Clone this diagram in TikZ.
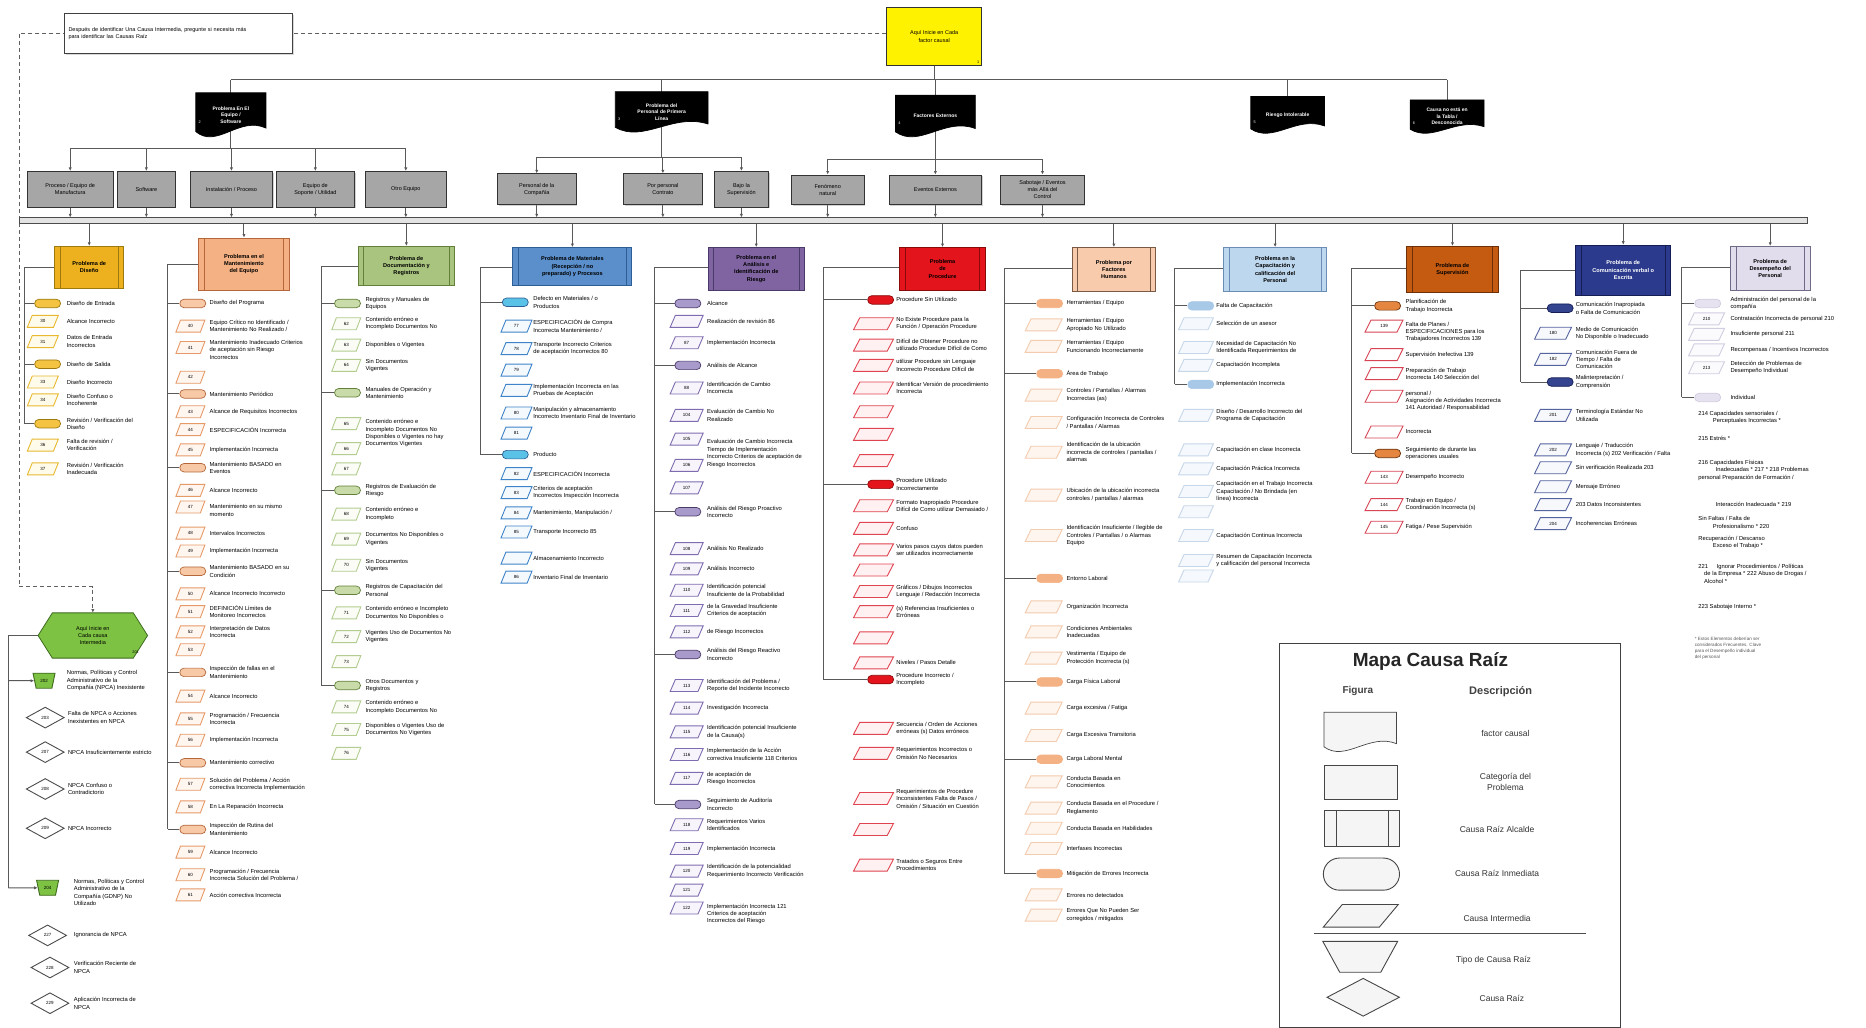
\documentclass[tikz,border=0pt]{standalone}
\usepackage{fontspec}
\setmainfont{Liberation Sans}
\usetikzlibrary{shapes.geometric,shapes.misc,arrows.meta,shadows}
\pgfdeclarelayer{bg}
\pgfsetlayers{bg,main}
\newcounter{itm}
\definecolor{lnc}{HTML}{595959}
\definecolor{boxgray}{HTML}{A6A6A6}
\definecolor{gdH}{HTML}{EDB120}\definecolor{gdD}{HTML}{9C7A0E}\definecolor{gdS}{HTML}{F5C342}\definecolor{gdP}{HTML}{E8B830}\definecolor{gdF}{HTML}{FFFBEA}
\definecolor{slH}{HTML}{F4B183}\definecolor{slD}{HTML}{B5673A}\definecolor{slS}{HTML}{F8C9A6}\definecolor{slP}{HTML}{E69A68}\definecolor{slF}{HTML}{FFF6F0}
\definecolor{gnH}{HTML}{A9C47F}\definecolor{gnD}{HTML}{62803A}\definecolor{gnS}{HTML}{C9DBA8}\definecolor{gnP}{HTML}{B3CC8F}\definecolor{gnF}{HTML}{FAFCF5}
\definecolor{blH}{HTML}{5A8FCB}\definecolor{blD}{HTML}{2E5E96}\definecolor{blS}{HTML}{5BC2E7}\definecolor{blP}{HTML}{3F84C8}\definecolor{blF}{HTML}{F4F9FE}
\definecolor{puH}{HTML}{8064A2}\definecolor{puD}{HTML}{4A3A6A}\definecolor{puS}{HTML}{A89BCB}\definecolor{puP}{HTML}{7F6CB0}\definecolor{puF}{HTML}{F7F5FB}
\definecolor{rdH}{HTML}{E3141B}\definecolor{rdD}{HTML}{8A0A0A}\definecolor{rdS}{HTML}{E3141B}\definecolor{rdP}{HTML}{E04450}\definecolor{rdF}{HTML}{FFF0F1}
\definecolor{pcH}{HTML}{F8CBAD}\definecolor{pcD}{HTML}{7A5A45}\definecolor{pcS}{HTML}{F4B183}\definecolor{pcP}{HTML}{F3CBAE}\definecolor{pcF}{HTML}{FEF5EE}
\definecolor{lbH}{HTML}{BDD7EE}\definecolor{lbD}{HTML}{6A8DB5}\definecolor{lbS}{HTML}{A8C8E8}\definecolor{lbP}{HTML}{C6D7EA}\definecolor{lbF}{HTML}{F5F8FC}
\definecolor{orH}{HTML}{C55A11}\definecolor{orD}{HTML}{6E3008}\definecolor{orS}{HTML}{E4863F}\definecolor{orP}{HTML}{D74555}\definecolor{orF}{HTML}{FFFFFF}
\definecolor{nvH}{HTML}{2B3A8C}\definecolor{nvD}{HTML}{141E55}\definecolor{nvS}{HTML}{34448F}\definecolor{nvP}{HTML}{55649F}\definecolor{nvF}{HTML}{F7F8FC}
\definecolor{lvH}{HTML}{E2DDEC}\definecolor{lvD}{HTML}{6F6A85}\definecolor{lvS}{HTML}{E6E2EF}\definecolor{lvP}{HTML}{D2CCE0}\definecolor{lvF}{HTML}{FBFAFD}
\definecolor{hexg}{HTML}{7DC242}\definecolor{hexd}{HTML}{3E6B1F}
\tikzset{
 conn/.style={draw=lnc, line width=1pt},
 arr/.style={conn, -{Latex[length=3.5pt,width=3.2pt]}},
 dashl/.style={draw=gray!75!black, line width=1pt, dash pattern=on 4pt off 3pt},
 txt/.style={anchor=west, inner sep=0pt, align=left, font=\fontsize{5.8}{7.4}\selectfont, text=black},
 stad/.style={rounded rectangle, minimum width=26pt, minimum height=8.5pt, inner sep=0pt, line width=0.7pt},
 para/.style={trapezium, trapezium left angle=60, trapezium right angle=120, trapezium stretches=true, minimum height=12pt, inner sep=0pt, line width=0.9pt, font=\fontsize{4.5}{5}\selectfont},
 gboxst/.style={draw=gray!40!black, fill=boxgray, line width=0.8pt, inner sep=1pt, align=center, font=\fontsize{5.5}{7}\selectfont, drop shadow={opacity=0.35,shadow xshift=1.2pt,shadow yshift=-1.2pt}},
 hdrbox/.style={line width=0.9pt, inner sep=1pt, align=center, font=\fontsize{5.6}{7.2}\selectfont\bfseries},
 numw/.style={font=\fontsize{3.8}{4}\selectfont, inner sep=0pt},
 doctxt/.style={text=white, font=\fontsize{5}{6.5}\selectfont\bfseries},
 legdoc/.style={},
 trapz/.style={trapezium, trapezium left angle=115, trapezium right angle=115, trapezium stretches=true, inner sep=0pt, line width=0.9pt, font=\fontsize{4.5}{5}\selectfont},
 dia/.style={diamond, draw=gray!60!black, fill=white, minimum width=38pt, minimum height=21pt, inner sep=0pt, line width=0.9pt, font=\fontsize{4.5}{5}\selectfont},
 legtxt/.style={font=\fontsize{8.5}{11}\selectfont, text=black!80, align=center},
 legshape/.style={draw=gray!55!black, fill=gray!8, line width=0.9pt, inner sep=0pt},
}
\newcommand\setcol[9]{\def\cLx{#1}\def\cSx{#2}\def\cPx{#3}\def\cTx{#4}\def\cPw{#5}\def\cSf{#6}\def\cPd{#7}\def\cPf{#8}\def\cSd{#9}}
\newcommand\CS[2]{\stepcounter{itm}%
 \coordinate (j\theitm) at (\cLx,#1);%
 \node[stad,fill=\cSf,draw=\cSd] (s\theitm) at (\cSx,#1) {};%
 \begin{pgfonlayer}{bg}\draw[conn] (j\theitm) -- (s\theitm.west);\end{pgfonlayer}%
 \node[txt] (st\theitm) at (\cTx,#1) {#2};}
\newcommand\CP[4][]{\stepcounter{itm}%
 \node[para,draw=\cPd,fill=\cPf,minimum width=\cPw pt] (p\theitm) at (\cPx,#2) {\makebox[8pt]{#3\vphantom{0}}};%
 \if\relax\detokenize{#1}\relax\node[txt] (pt\theitm) at (\cTx,#2) {#4};%
 \else\node[txt] (pt\theitm) at (\cTx,#1) {#4};\fi}
\newcommand\colline[3]{\coordinate (#1a) at (\cLx,#2);\coordinate (#1b) at (\cLx,#3);%
 \begin{pgfonlayer}{bg}\draw[conn] (#1.west |- #1a) -- (#1a) -- (#1b);\end{pgfonlayer}}
\newcommand\hdr[9]{%
 \node[hdrbox, fill=#6, draw=#7, text=#8, minimum width={(#4-#2)*1.19pt}, minimum height={(#5-#3)*1.19pt}] (#1) at ({(#2+#4)/2},{(#3+#5)/2}) {#9};%
 \draw[draw=#7, line width=0.7pt] ([xshift=6pt]#1.north west) -- ([xshift=6pt]#1.south west) ([xshift=-6pt]#1.north east) -- ([xshift=-6pt]#1.south east);}
\newcommand\gbox[6]{\node[gboxst, minimum width={(#4-#2)*1.19pt}, minimum height={(#5-#3)*1.19pt}] (#1) at ({(#2+#4)/2},{(#3+#5)/2}) {#6};}
\newcommand\docshape[9]{%
 \path[fill=#6, draw=#7, line width=0.7pt] ({#2-#4/2},{#3-#5/2}) -- ({#2+#4/2},{#3-#5/2}) -- ({#2+#4/2},{#3+0.3*#5}) .. controls ({#2+0.12*#4},{#3+0.02*#5}) and ({#2-0.2*#4},{#3+0.78*#5}) .. ({#2-#4/2},{#3+0.38*#5}) -- cycle;%
 \node[#8, inner sep=0pt, align=center, minimum width={#4*1.19pt}, minimum height={#5*1.19pt}] (#1) at (#2,#3) {#9};}
\begin{document}
\begin{tikzpicture}[x=1.19pt,y=-1.19pt]
\begin{pgfonlayer}{bg}\fill[white] (0,0) rectangle (1568,863);\end{pgfonlayer}
\useasboundingbox (0,0) rectangle (1568,863);

% ---------- top ----------
\node[draw=gray!50!black, fill=white, line width=0.8pt, minimum width=228pt, minimum height=40pt, text width=220pt, align=left, font=\fontsize{5.5}{7.5}\selectfont, drop shadow={opacity=0.3,shadow xshift=1.2pt,shadow yshift=-1.2pt}] (note) at (150,28) {Después de identificar Una Causa Intermedia, pregunte si necesita más\\para identificar las Causas Raíz};
\node[draw=gray!40!black, fill=yellow, line width=0.8pt, minimum width=95pt, minimum height=58pt, align=center, font=\fontsize{5.5}{7.5}\selectfont] (yel) at (785,30.5) {Aquí Inicie en Cada\\factor causal};
\node[numw] (yeln) at ([shift={(-4pt,4pt)}]yel.south east) {1};

\docshape{d1}{194}{96.5}{59}{37}{black}{black}{doctxt}{Problema En El\\Equipo /\\Software}
\docshape{d2}{556}{94}{78}{34}{black}{black}{doctxt}{Problema del\\Personal de Primera\\Línea}
\docshape{d3}{786}{97.5}{67}{35}{black}{black}{doctxt}{Factores Externos}
\docshape{d4}{1082}{96.5}{62}{31}{black}{black}{doctxt}{Riesgo Intolerable}
\docshape{d5}{1216}{98}{62}{28}{black}{black}{doctxt}{Causa no está en\\la Tabla /\\Desconocida}
\node[numw,text=white] (d1n) at ([shift={(4pt,-7pt)}]d1.west) {2};
\node[numw,text=white] (d2n) at ([shift={(4pt,-7pt)}]d2.west) {3};
\node[numw,text=white] (d3n) at ([shift={(4pt,-7pt)}]d3.west) {4};
\node[numw,text=white] (d4n) at ([shift={(4pt,-7pt)}]d4.west) {5};
\node[numw,text=white] (d5n) at ([shift={(4pt,-7pt)}]d5.west) {6};

\gbox{b1}{23}{144}{95}{174}{Proceso / Equipo de\\Manufactura}
\gbox{b2}{99}{144}{147}{174}{Software}
\gbox{b3}{160}{144}{229}{174}{Instalación / Proceso}
\gbox{b4}{232}{144}{298}{174}{Equipo de\\Soporte / Utilidad}
\gbox{b5}{307}{144}{375}{174}{Otro Equipo}
\gbox{b6}{418}{146}{484}{172}{Personal de la\\Compañía}
\gbox{b7}{524}{146}{590}{172}{Por personal\\Contrato}
\gbox{b8}{600}{144}{646}{174}{Bajo la\\Supervisión}
\gbox{b9}{665}{147}{726}{172}{Fenómeno\\natural}
\gbox{b10}{747}{147}{825}{172}{Eventos Externos}
\gbox{b11}{841}{147}{911}{172}{Sabotaje / Eventos\\más Allá del\\Control}

\node[draw=gray!60!black, fill=gray!22, line width=0.7pt, minimum width={1503*1.19pt}, minimum height=6pt, inner sep=0pt] (bar) at (767.5,185.5) {};

\coordinate (busT) at (194,67); \coordinate (busTR) at (1216,67);
\coordinate (bus1L) at (59,125); \coordinate (bus1R) at (341,125);
\coordinate (bus2L) at (451,132); \coordinate (bus2R) at (623,132);
\coordinate (bus3L) at (695.5,134); \coordinate (bus3R) at (876,134);
\begin{pgfonlayer}{bg}
\draw[conn] (yel.south) -- (yel.south |- busT);
\draw[conn] (busT) -- (busTR);
\foreach \d in {d1,d2,d3,d4,d5} \draw[conn] (\d.center |- busT) -- (\d.center);
\draw[conn] (d1.center) -- (d1.center |- bus1L); \draw[conn] (bus1L) -- (bus1R);
\draw[conn] (d2.center) -- (d2.center |- bus2L); \draw[conn] (bus2L) -- (bus2R);
\draw[conn] (d3.center) -- (d3.center |- bus3L); \draw[conn] (bus3L) -- (bus3R);
\foreach \b in {b1,b2,b3,b4,b5} \draw[arr] (\b.north |- bus1L) -- (\b.north);
\foreach \b in {b6,b7,b8} \draw[arr] (\b.north |- bus2L) -- (\b.north);
\foreach \b in {b9,b10,b11} \draw[arr] (\b.north |- bus3L) -- (\b.north);
\foreach \b in {b1,b2,b3,b4,b5,b6,b7,b8,b9,b10,b11} \draw[arr] (\b.south) -- (\b.south |- bar.north);
\end{pgfonlayer}

% ---------- headers ----------
\hdr{h1}{46}{207}{104}{242}{gdH}{gdD}{black}{Problema de\\Diseño}
\hdr{h2}{167}{200}{243}{244}{slH}{slD}{black}{Problema en el\\Mantenimiento\\del Equipo}
\hdr{h3}{301}{207}{382}{240}{gnH}{gnD}{black}{Problema de\\Documentación y\\Registros}
\hdr{h4}{431}{208}{531}{240}{blH}{blD}{black}{Problema de Materiales\\(Recepción / no\\preparado) y Procesos}
\hdr{h5}{595}{208}{676}{244}{puH}{puD}{black}{Problema en el\\Análisis e\\Identificación de\\Riesgo}
\hdr{h6}{756}{208}{828}{244}{rdH}{rdD}{black}{Problema\\de\\Procedure}
\hdr{h7}{901}{208}{971}{245}{pcH}{pcD}{black}{Problema por\\Factores\\Humanos}
\hdr{h8}{1028}{208}{1115}{245}{lbH}{lbD}{black}{Problema en la\\Capacitación y\\calificación del\\Personal}
\hdr{h9}{1182}{207}{1259}{246}{orH}{orD}{black}{Problema de\\Supervisión}
\hdr{h10}{1324}{206}{1404}{248}{nvH}{nvD}{white}{Problema de\\Comunicación verbal o\\Escrita}
\hdr{h11}{1454}{207}{1521}{244}{lvH}{lvD}{black}{Problema de\\Desempeño del\\Personal}
\begin{pgfonlayer}{bg}
\foreach \h in {h1,h2,h3,h4,h5,h6,h7,h8,h9,h10,h11} \draw[arr] (\h.north |- bar.south) -- (\h.north);
\end{pgfonlayer}

% ---------- column 1 ----------
\setcol{21}{40}{36}{56}{31}{gdS}{gdP}{gdF}{gdD}
\CS{255}{Diseño de Entrada}
\CP{270}{30}{Alcance Incorrecto}
\CP{287}{31}{Datos de Entrada\\Incorrectos}
\CS{306}{Diseño de Salida}
\CP{321}{33}{Diseño Incorrecto}
\CP{336}{34}{Diseño Confuso o\\Incoherente}
\CS{356}{Revisión / Verificación del\\Diseño}
\CP{374}{36}{Falta de revisión /\\Verificación}
\CP{394}{37}{Revisión / Verificación\\Inadecuada}
\colline{h1}{225}{356}

% ---------- column 2 ----------
\setcol{141}{162}{160}{176}{29}{slS}{slP}{slF}{slD}
\CS{255}{Diseño del Programa}
\CP{274}{40}{Equipo Crítico no Identificado /\\Mantenimiento No Realizado /}
\CP[294]{292}{41}{Mantenimiento Inadecuado Criterios\\de aceptación sin Riesgo\\Incorrectos}
\CP{317}{42}{}
\CS{331}{Mantenimiento Periódico}
\CP{346}{43}{Alcance de Requisitos Incorrectos}
\CP{361}{44}{ESPECIFICACIÓN Incorrecta}
\CP{378}{45}{Implementación Incorrecta}
\CS{393}{Mantenimiento BASADO en\\Eventos}
\CP{412}{46}{Alcance Incorrecto}
\CP[429]{426}{47}{Mantenimiento en su mismo\\momento}
\CP{448}{48}{Intervalos Incorrectos}
\CP{463}{49}{Implementación Incorrecta}
\CS{480}{Mantenimiento BASADO en su\\Condición}
\CP{499}{50}{Alcance Incorrecto Incorrecto}
\CP{514}{51}{DEFINICIÓN Límites de\\Monitoreo Incorrectos}
\CP{531}{52}{Interpretación de Datos\\Incorrecta}
\CP{546}{53}{}
\CS{565}{Inspección de fallas en el\\Mantenimiento}
\CP{585}{54}{Alcance Incorrecto}
\CP{604}{55}{Programación / Frecuencia\\Incorrecta}
\CP{622}{56}{Implementación Incorrecta}
\CS{641}{Mantenimiento correctivo}
\CP{659}{57}{Solución del Problema / Acción\\correctiva Incorrecta Implementación}
\CP{678}{58}{En La Reparación Incorrecta}
\CS{697}{Inspección de Rutina del\\Mantenimiento}
\CP{716}{59}{Alcance Incorrecto}
\CP{735}{60}{Programación / Frecuencia\\Incorrecta Solución del Problema /}
\CP{752}{61}{Acción correctiva Incorrecta}
\colline{h2}{222}{697}

% ---------- column 3 ----------
\setcol{270}{292}{291}{307}{29}{gnS}{gnP}{gnF}{gnD}
\CS{255}{Registros y Manuales de\\Equipos}
\CP{272}{62}{Contenido erróneo e\\Incompleto Documentos No}
\CP{290}{63}{Disponibles o Vigentes}
\CP{307}{64}{Sin Documentos\\Vigentes}
\CS{330}{Manuales de Operación y\\Mantenimiento}
\CP[364]{356}{65}{Contenido erróneo e\\Incompleto Documentos No\\Disponibles o Vigentes no hay\\Documentos Vigentes}
\CP{377}{66}{}
\CP{394}{67}{}
\CS{412}{Registros de Evaluación de\\Riesgo}
\CP{432}{68}{Contenido erróneo e\\Incompleto}
\CP{453}{69}{Documentos No Disponibles o\\Vigentes}
\CP{475}{70}{Sin Documentos\\Vigentes}
\CS{496}{Registros de Capacitación del\\Personal}
\CP{515}{71}{Contenido erróneo e Incompleto\\Documentos No Disponibles o}
\CP{535}{72}{Vigentes Uso de Documentos No\\Vigentes}
\CP{556}{73}{}
\CS{576}{Otros Documentos y\\Registros}
\CP{594}{74}{Contenido erróneo e\\Incompleto Documentos No}
\CP{613}{75}{Disponibles o Vigentes Uso de\\Documentos No Vigentes}
\CP{633}{76}{}
\colline{h3}{224}{576}

% ---------- column 4 ----------
\setcol{404}{433}{434}{448}{31}{blS}{blP}{blF}{blD}
\CS{254}{Defecto en Materiales / o\\Productos}
\CP{274}{77}{ESPECIFICACIÓN de Compra\\Incorrecta Mantenimiento /}
\CP{293}{78}{Transporte Incorrecto Criterios\\de aceptación Incorrectos 80}
\CP{311}{79}{}
\CP{328}{}{Implementación Incorrecta en las\\Pruebas de Aceptación}
\CP{347}{80}{Manipulación y almacenamiento\\Incorrecto Inventario Final de Inventario}
\CP{364}{81}{}
\CS{382}{Producto}
\CP{398}{82}{ESPECIFICACIÓN Incorrecta}
\CP{414}{83}{Criterios de aceptación\\Incorrectos Inspección Incorrecta}
\CP{431}{84}{Mantenimiento, Manipulación /}
\CP{447}{85}{Transporte Incorrecto 85}
\CP{469}{}{Almacenamiento Incorrecto}
\CP{485}{86}{Inventario Final de Inventario}
\colline{h4}{225}{382}

% ---------- column 5 ----------
\setcol{550}{578}{577}{594}{33}{puS}{puP}{puF}{puD}
\CS{255}{Alcance}
\CP{270}{}{Realización de revisión 86}
\CP{288}{87}{Implementación Incorrecta}
\CS{307}{Análisis de Alcance}
\CP{326}{88}{Identificación de Cambio\\Incorrecta}
\CP{349}{104}{Evaluación de Cambio No\\Realizado}
\CP[381]{369}{105}{Evaluación de Cambio Incorrecta\\Tiempo de Implementación\\Incorrecto Criterios de aceptación de\\Riesgo Incorrectos}
\CP{391}{106}{}
\CP{410}{107}{}
\CS{430}{Análisis del Riesgo Proactivo\\Incorrecto}
\CP{461}{108}{Análisis No Realizado}
\CP{478}{109}{Análisis Incorrecto}
\CP{496}{110}{Identificación potencial\\Insuficiente de la Probabilidad}
\CP{513}{111}{de la Gravedad Insuficiente\\Criterios de aceptación}
\CP{531}{112}{de Riesgo Incorrectos}
\CS{550}{Análisis del Riesgo Reactivo\\Incorrecto}
\CP{576}{113}{Identificación del Problema /\\Reporte del Incidente Incorrecto}
\CP{595}{114}{Investigación Incorrecta}
\CP{615}{115}{Identificación potencial Insuficiente\\de la Causa(s)}
\CP{634}{116}{Implementación de la Acción\\correctiva Insuficiente 118 Criterios}
\CP{654}{117}{de aceptación de\\Riesgo Incorrectos}
\CS{676}{Seguimiento de Auditoría\\Incorrecto}
\CP{693}{118}{Requerimientos Varios\\Identificados}
\CP{713}{119}{Implementación Incorrecta}
\CP{732}{120}{Identificación de la potencialidad\\Requerimiento Incorrecto Verificación}
\CP{748}{121}{}
\CP[768]{763}{122}{Implementación Incorrecta 121\\Criterios de aceptación\\Incorrectos del Riesgo}
\colline{h5}{225}{676}

% ---------- column 6 ----------
\setcol{692}{740}{734}{753}{40}{rdS}{rdP}{rdF}{rdD}
\CS{252}{Procedure Sin Utilizado}
\CP{272}{}{No Existe Procedure para la\\Función / Operación Procedure}
\CP{290}{}{Difícil de Obtener Procedure no\\utilizado Procedure Difícil de Como}
\CP{307}{}{utilizar Procedure sin Lenguaje\\Incorrecto Procedure Difícil de}
\CP{326}{}{Identificar Versión de procedimiento\\Incorrecta}
\CP{346}{}{}
\CP{365}{}{}
\CP{387}{}{}
\CS{407}{Procedure Utilizado\\Incorrectamente}
\CP{425}{}{Formato Inapropiado Procedure\\Difícil de Como utilizar Demasiado /}
\CP{444}{}{Confuso}
\CP{462}{}{Varios pasos cuyos datos pueden\\ser utilizados incorrectamente}
\CP{479}{}{}
\CP{497}{}{Gráficos / Dibujos Incorrectos\\Lenguaje / Redacción Incorrecta}
\CP{514}{}{(s) Referencias Insuficientes o\\Erróneas}
\CP{536}{}{}
\CP{557}{}{Niveles / Pasos Detalle}
\CS{571}{Procedure Incorrecto /\\Incompleto}
\CP{612}{}{Secuencia / Orden de Acciones\\erróneas (s) Datos erróneos}
\CP{633}{}{Requerimientos Incorrectos o\\Omisión No Necesarios}
\CP{671}{}{Requerimientos de Procedure\\Inconsistentes Falta de Pasos /\\Omisión / Situación en Cuestión}
\CP{697}{}{}
\CP{727}{}{Tratados o Seguros Entre\\Procedimientos}
\colline{h6}{225}{571}

% ---------- column 7 ----------
\setcol{844}{882}{877}{896}{37}{pcS}{pcP}{pcF}{pcS}
\CS{255}{Herramientas / Equipo}
\CP{273}{}{Herramientas / Equipo\\Apropiado No Utilizado}
\CP{291}{}{Herramientas / Equipo\\Funcionando Incorrectamente}
\CS{314}{Área de Trabajo}
\CP{332}{}{Controles / Pantallas / Alarmas\\Incorrectas (as)}
\CP{355}{}{Configuración Incorrecta de Controles\\/ Pantallas / Alarmas}
\CP{380}{}{Identificación de la ubicación\\incorrecta de controles / pantallas /\\alarmas}
\CP{416}{}{Ubicación de la ubicación incorrecta\\controles / pantallas / alarmas}
\CP{450}{}{Identificación Insuficiente / Ilegible de\\Controles / Pantallas / o Alarmas\\Equipo}
\CS{486}{Entorno Laboral}
\CP{510}{}{Organización Incorrecta}
\CP{531}{}{Condiciones Ambientales\\Inadecuadas}
\CP{553}{}{Vestimenta / Equipo de\\Protección Incorrecta (s)}
\CS{573}{Carga Física Laboral}
\CP{595}{}{Carga excesiva / Fatiga}
\CP{618}{}{Carga Excesiva Transitoria}
\CS{638}{Carga Laboral Mental}
\CP{657}{}{Conducta Basada en\\Conocimientos}
\CP{679}{}{Conducta Basada en el Procedure /\\Reglamento}
\CP{696}{}{Conducta Basada en Habilidades}
\CP{713}{}{Interfases Incorrectas}
\CS{734}{Mitigación de Errores Incorrecta}
\CP{752}{}{Errores no detectados}
\CP{769}{}{Errores Que No Pueden Ser\\corregidos / mitigados}
\colline{h7}{226}{734}

% ---------- column 8 ----------
\setcol{987}{1009}{1005}{1022}{35}{lbS}{lbP}{lbF}{lbS}
\CS{257}{Falta de Capacitación}
\CP{272}{}{Selección de un asesor}
\CP{292}{}{Necesidad de Capacitación No\\Identificada Requerimientos de}
\CP{307}{}{Capacitación Incompleta}
\CS{323}{Implementación Incorrecta}
\CP{349}{}{Diseño / Desarrollo Incorrecto del\\Programa de Capacitación}
\CP{378}{}{Capacitación en clase Incorrecta}
\CP{394}{}{Capacitación Práctica Incorrecta}
\CP{413}{}{Capacitación en el Trabajo Incorrecta\\Capacitación / No Brindada (en\\línea) Incorrecta}
\CP{430}{}{}
\CP{450}{}{Capacitación Continua Incorrecta}
\CP{471}{}{Resumen de Capacitación Incorrecta\\y calificación del personal Incorrecta}
\CP{484}{}{}
\colline{h8}{226}{323}

% ---------- column 9 ----------
\setcol{1136}{1166}{1163}{1181}{38}{orS}{orP}{orF}{orD}
\CS{257}{Planificación de\\Trabajo Incorrecta}
\CP[279]{274}{139}{Falta de Planes /\\ESPECIFICACIONES para los\\Trabajadores Incorrectos 139}
\CP{298}{}{Supervisión Inefectiva 139}
\CP{314}{}{Preparación de Trabajo\\Incorrecta 140 Selección del}
\CP[337]{333}{}{personal /\\Asignación de Actividades Incorrecta\\141 Autoridad / Responsabilidad}
\CP{363}{}{Incorrecta}
\CS{381}{Seguimiento de durante las\\operaciones usuales}
\CP{401}{143}{Desempeño Incorrecto}
\CP{424}{144}{Trabajo en Equipo /\\Coordinación Incorrecta (s)}
\CP{443}{145}{Fatiga / Pese Supervisión}
\colline{h9}{226}{381}

% ---------- column 10 ----------
\setcol{1278}{1311}{1305}{1324}{37}{nvS}{nvP}{nvF}{nvD}
\CS{259}{Comunicación Inapropiada\\o Falta de Comunicación}
\CP{280}{180}{Medio de Comunicación\\No Disponible o Inadecuado}
\CP{302}{182}{Comunicación Fuera de\\Tiempo / Falta de\\Comunicación}
\CS{321}{Malinterpretación /\\Comprensión}
\CP{349}{201}{Terminología Estándar No\\Utilizada}
\CP{378}{202}{Lenguaje / Traducción\\Incorrecta (s) 202 Verificación / Falta}
\CP{393}{}{Sin verificación Realizada 203}
\CP{409}{}{Mensaje Erróneo}
\CP{424}{}{203 Datos Inconsistentes}
\CP{440}{204}{Incoherencias Erróneas}
\colline{h10}{227}{321}

% ---------- column 11 ----------
\setcol{1413}{1435}{1434}{1454}{36}{lvS}{lvP}{lvF}{lvP}
\CS{255}{Administración del personal de la\\compañía}
\CP{268}{210}{Contratación Incorrecta de personal 210}
\CP{281}{}{Insuficiente personal 211}
\CP{294}{}{Recompensas / Incentivos Incorrectos}
\CP{309}{213}{Detección de Problemas de\\Desempeño Individual}
\CS{334}{Individual}
\colline{h11}{225}{334}
\node[txt] (t11a) at (1427,351) {214 Capacidades sensoriales /\\\hspace{2.5em}Perceptuales Incorrectas *};
\node[txt] (t11b) at (1427,368) {215 Estrés *};
\node[txt] (t11c) at (1427,395) {216 Capacidades Físicas\\\hspace{3em}Inadecuadas * 217 * 218 Problemas\\personal Preparación de Formación /};
\node[txt] (t11d) at (1427,424) {\hspace{3em}Interacción Inadecuada * 219};
\node[txt] (t11e) at (1427,439) {Sin Faltas / Falta de\\\hspace{2.5em}Profesionalismo * 220};
\node[txt] (t11f) at (1427,456) {Recuperación / Descanso\\\hspace{2.5em}Exceso el Trabajo *};
\node[txt] (t11g) at (1427,482) {221\hspace{1.5em}Ignorar Procedimientos / Políticas\\\hspace{1em}de la Empresa * 222 Abuso de Drogas /\\\hspace{1em}Alcohol *};
\node[txt] (t11h) at (1427,510) {223 Sabotaje Interno *};
\node[anchor=north west, inner sep=0pt, align=left, font=\fontsize{4.6}{6}\selectfont, text=black!65] (foot) at (1424,535) {* Estos Elementos deberían ser\\considerados Frecuentes. Clave\\para el Desempeño individual\\del personal};

% ---------- hexagon tree ----------
\path[fill=hexg, draw=hexd, line width=0.8pt] (32,534) -- (44,515) -- (112,515) -- (124,534) -- (112,553) -- (44,553) -- cycle;
\node[align=center, inner sep=0pt, font=\fontsize{5.5}{7}\selectfont, minimum width={92*1.19pt}, minimum height={38*1.19pt}] (hex) at (78,534) {Aquí Inicie en\\Cada causa\\Intermedia};
\node[numw] (hexn) at (114,548) {201};
\coordinate (dA) at (16,28); \coordinate (dB) at (16,493); \coordinate (dC) at (78,493);
\begin{pgfonlayer}{bg}
\draw[dashl, -{Latex[length=3.5pt,width=3.2pt]}] (dA -| yel.west) -- (dA) -- (dB) -- (dC) -- (hex.north);
\end{pgfonlayer}
\coordinate (hL1) at (7,534); \coordinate (hL2) at (7,746);
\node[trapz, fill=hexg, draw=hexd, minimum width=22pt, minimum height=15pt] (tz1) at (37,572) {202};
\node[trapz, fill=hexg, draw=hexd, minimum width=22pt, minimum height=15pt] (tz2) at (40,746) {204};
\begin{pgfonlayer}{bg}
\draw[conn] (hex.west) -- (hL1) -- (hL2);
\draw[arr] (hL1 |- tz1) -- (tz1.west);
\draw[arr] (hL2) -- (tz2.west);
\end{pgfonlayer}
\node[txt] (tz1t) at (56,572) {Normas, Políticas y Control\\Administrativo de la\\Compañía (NPCA) Inexistente};
\node[dia] (dm1) at (38,603) {203}; \node[txt] (dm1t) at (57,603) {Falta de NPCA o Acciones\\Inexistentes en NPCA};
\node[dia] (dm2) at (38,632) {207}; \node[txt] (dm2t) at (57,632) {NPCA Insuficientemente estricto};
\node[dia] (dm3) at (38,663) {208}; \node[txt] (dm3t) at (57,663) {NPCA Confuso o\\Contradictorio};
\node[dia] (dm4) at (38,696) {209}; \node[txt] (dm4t) at (57,696) {NPCA Incorrecto};
\node[txt] (tz2t) at (62,750) {Normas, Políticas y Control\\Administrativo de la\\Compañía (GDNP) No\\Utilizado};
\node[dia] (dm5) at (40,786) {227}; \node[txt] (dm5t) at (62,786) {Ignorancia de NPCA};
\node[dia] (dm6) at (42,813) {228}; \node[txt] (dm6t) at (62,813) {Verificación Reciente de\\NPCA};
\node[dia] (dm7) at (42,843) {229}; \node[txt] (dm7t) at (62,843) {Aplicación Incorrecta de\\NPCA};

% ---------- legend ----------
\node[draw=gray!50!black, line width=0.9pt, fill=white, minimum width={287*1.19pt}, minimum height={322*1.19pt}, inner sep=0pt] (leg) at (1218.5,702) {};
\node[font=\fontsize{19}{22}\selectfont\bfseries, text=black!85] (legT) at (1202,556) {Mapa Causa Raíz};
\node[font=\fontsize{10}{12}\selectfont\bfseries, text=black!75] (legF) at (1141,581) {Figura};
\node[font=\fontsize{11}{13}\selectfont\bfseries, text=black!75] (legD) at (1261,581) {Descripción};
\docshape{lg1}{1143}{615}{61}{33}{gray!8}{gray!55!black}{legdoc}{}
\node[legshape, rectangle, minimum width={61*1.19pt}, minimum height={29*1.19pt}] (lg2) at (1143.5,657.5) {};
\node[legshape, rectangle, minimum width={63*1.19pt}, minimum height={30*1.19pt}] (lg3) at (1144.5,696) {};
\draw[gray!55!black, line width=0.9pt] ([xshift=12pt]lg3.north west) -- ([xshift=12pt]lg3.south west) ([xshift=-12pt]lg3.north east) -- ([xshift=-12pt]lg3.south east);
\node[legshape, rounded rectangle, minimum width={64*1.19pt}, minimum height={27*1.19pt}] (lg4) at (1144,734.5) {};
\node[legshape, trapezium, trapezium left angle=60, trapezium right angle=120, trapezium stretches=true, minimum width={63*1.19pt}, minimum height={19*1.19pt}] (lg5) at (1143.5,769.5) {\makebox[8pt]{\vphantom{0}}};
\draw[gray!60!black, line width=1pt] (1104,784) -- (1333,784);
\node[legshape, trapezium, trapezium left angle=115, trapezium right angle=115, trapezium stretches=true, minimum width={63*1.19pt}, minimum height={26*1.19pt}] (lg6) at (1143,804) {\makebox[8pt]{\vphantom{0}}};
\node[legshape, diamond, minimum width={61*1.19pt}, minimum height={32*1.19pt}] (lg7) at (1145.5,838) {};
\node[legtxt] (lg1t) at (1265,616) {factor causal};
\node[legtxt] (lg2t) at (1265,657) {Categoría del\\Problema};
\node[legtxt] (lg3t) at (1258,697) {Causa Raíz Alcalde};
\node[legtxt] (lg4t) at (1258,734) {Causa Raíz Inmediata};
\node[legtxt] (lg5t) at (1258,772) {Causa Intermedia};
\node[legtxt] (lg6t) at (1255,807) {Tipo de Causa Raíz};
\node[legtxt] (lg7t) at (1262,839) {Causa Raíz};
\end{tikzpicture}
\end{document}
